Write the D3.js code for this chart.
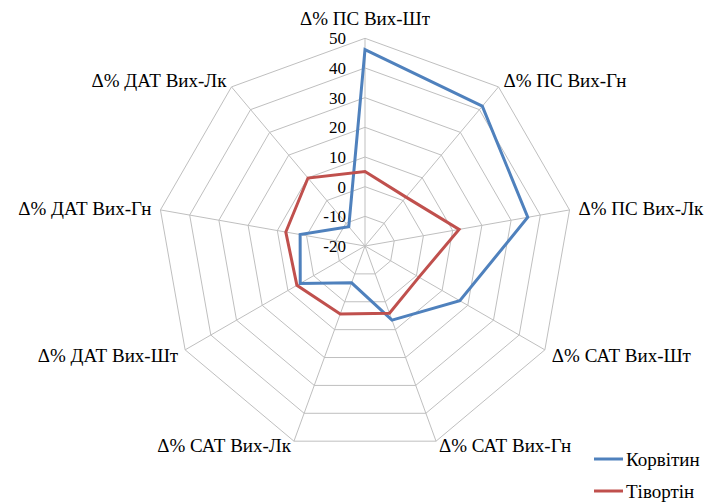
<!DOCTYPE html>
<html><head><meta charset="utf-8">
<script src="https://cdn.jsdelivr.net/npm/d3@7"></script>
</head><body style="margin:0;background:#fff">
<svg id="radar" width="709" height="502" style="display:block"></svg>
<script>
const categories = ["Δ% ПС Вих-Шт","Δ% ПС Вих-Гн","Δ% ПС Вих-Лк","Δ% САТ Вих-Шт","Δ% САТ Вих-Гн","Δ% САТ Вих-Лк","Δ% ДАТ Вих-Шт","Δ% ДАТ Вих-Гн","Δ% ДАТ Вих-Лк"];
const korvitin = [46.2, 41.5, 35.7, 16.9, 6.6, -6.8, 5.2, 2.2, -11.5];
const tivortin = [5.1, 1.5, 12.2, 1.0, 4.1, 4.4, 6.5, 7.1, 9.9];
const tickValues = [-20, -10, 0, 10, 20, 30, 40, 50];
const seriesNames = ["Корвітин", "Тівортін"];
const seriesColors = ["#4F81BD", "#C0504D"];

const FONT = `"Liberation Serif"`;
const svg = d3.select("#radar");
const cx = 365, cy = 246, R = 207.7;
const r = d3.scaleLinear().domain([-20, 50]).range([0, R]);
const ang = d3.scalePoint().domain(d3.range(categories.length)).range([0, 2*Math.PI*(categories.length-1)/categories.length]);
const pt = (i, v) => [cx + r(v)*Math.sin(ang(i)), cy - r(v)*Math.cos(ang(i))];

tickValues.slice(1).forEach(t => {
  svg.append("polygon")
    .attr("points", categories.map((c,i)=>pt(i,t).join(",")).join(" "))
    .attr("fill","none").attr("stroke","#BFBFBF").attr("stroke-width",1);
});
categories.forEach((c,i)=>{
  const p = pt(i,50);
  svg.append("line").attr("x1",cx).attr("y1",cy).attr("x2",p[0]).attr("y2",p[1])
    .attr("stroke","#BFBFBF").attr("stroke-width",1);
});
tickValues.forEach(t=>{
  svg.append("text").attr("x", cx-19).attr("y", cy - r(t) + 6)
    .attr("text-anchor","end")
    .style("font-family",FONT).style("font-size","17px")
    .text(t);
});
const line = d3.line().curve(d3.curveLinearClosed);
[korvitin, tivortin].forEach((s,k)=>{
  svg.append("path").attr("d", line(s.map((v,i)=>pt(i,v))))
    .attr("fill","none").attr("stroke",seriesColors[k]).attr("stroke-width",3);
});
categories.forEach((c,i)=>{
  const a = ang(i), s = Math.sin(a), co = Math.cos(a);
  const p = pt(i,50);
  let x = p[0], y = p[1], anchor;
  const side = s > 0 ? 1 : -1;
  if (Math.abs(s) < 0.01) { anchor = "middle"; y = 17.5; }
  else {
    anchor = s > 0 ? "start" : "end";
    if (co > 0.5) { x += side*5; y -= 6.5; }
    else if (co > 0) { x += side*9; y -= 2; }
    else if (co > -0.9) { x += side*7; y += 5; }
    else { x += side*3; y += 4; }
  }
  svg.append("text").attr("x",x).attr("y",y + 7)
    .attr("text-anchor",anchor)
    .style("font-family",FONT).style("font-size","19px")
    .text(c);
});
seriesNames.forEach((n,k)=>{
  const ly = 459 + k*32;
  svg.append("line").attr("x1",594).attr("x2",623).attr("y1",ly).attr("y2",ly)
    .attr("stroke",seriesColors[k]).attr("stroke-width",3);
  svg.append("text").attr("x",626).attr("y",ly + 7)
    .style("font-family",FONT).style("font-size","19px")
    .text(n);
});
</script>
</body></html>
